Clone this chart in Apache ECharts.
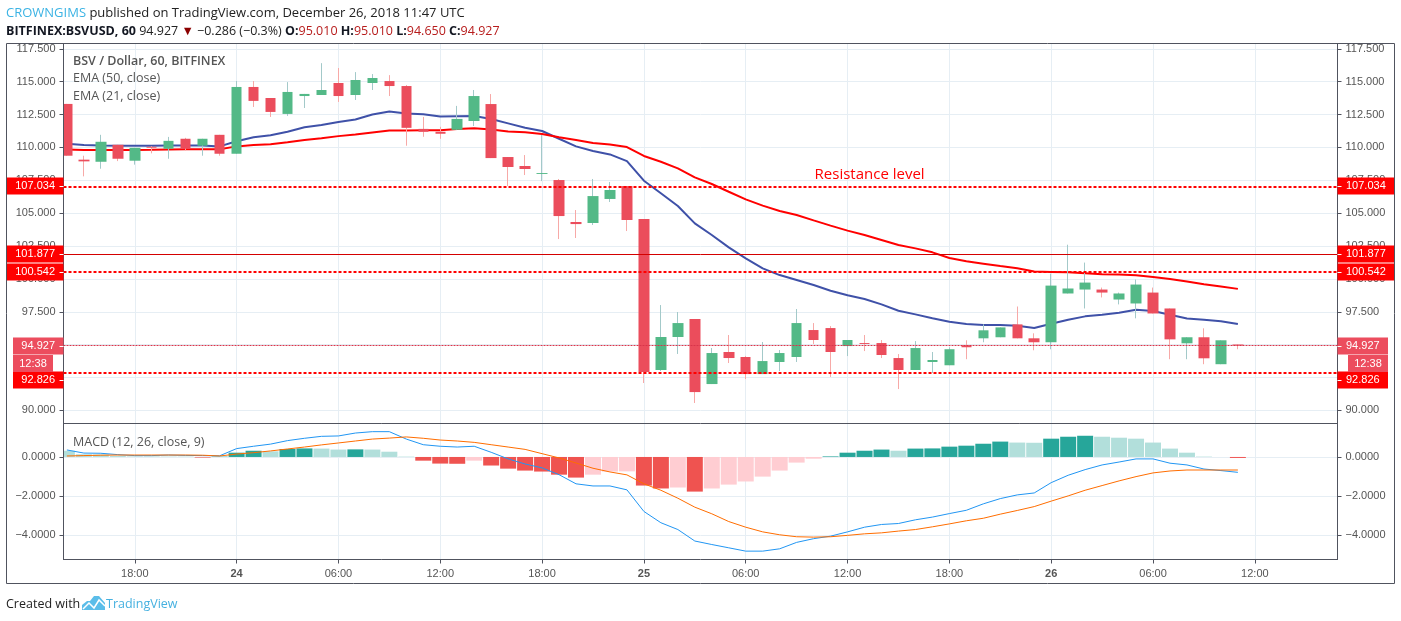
<!DOCTYPE html>
<html>
<head>
<meta charset="utf-8">
<title>BSVUSD</title>
<script src="https://cdn.jsdelivr.net/npm/echarts@6/dist/echarts.min.js"></script>
<style>
    html, body { margin: 0; padding: 0; background: #fff; }
    #chart { width: 1401px; height: 621px; }
</style>
</head>
<body>
<div id="chart"></div>
<script>
// hourly candles, 23 Dec 14:00 to 26 Dec 11:00, x is the candle number
const candleOpen = [113.31,109.07,108.91,110.20,108.99,110.05,109.90,110.66,110.13,110.96,109.52,114.60,113.76,112.55,113.91,113.99,114.90,113.99,114.90,115.05,114.67,111.41,111.19,111.34,
    112.01,113.30,109.27,108.59,107.98,107.52,104.33,104.25,106.08,107.06,104.55,93.07,95.58,96.95,92.00,94.44,94.06,92.76,93.68,94.06,96.11,96.26,94.89,95.12,95.12,93.98,93.07,93.68,
    93.43,94.95,95.48,95.56,96.54,95.48,95.18,98.89,99.19,99.19,98.43,98.13,98.96,97.75,95.10,95.56,93.51,95.01];
const candleClose = [109.37,108.94,110.43,109.14,109.97,109.98,110.50,109.90,110.66,109.52,114.60,113.54,112.70,114.22,114.07,114.37,113.91,115.13,115.28,114.67,111.49,111.19,111.04,112.17,
    113.91,109.19,108.51,108.36,108.05,104.78,104.17,106.30,106.76,104.48,92.92,95.58,96.64,91.39,94.36,93.98,92.76,93.75,94.36,96.64,95.35,94.44,95.35,95.05,94.21,93.07,94.74,93.83,
    94.65,94.80,96.09,96.31,95.48,95.18,99.49,99.27,99.72,98.96,98.89,99.57,97.37,95.40,95.56,93.96,95.33,94.927];
const candleLow = [109.37,107.80,108.38,108.96,108.69,109.55,109.14,109.77,109.37,109.37,109.52,113.08,112.32,112.40,113.00,113.99,113.46,113.61,114.37,113.91,110.13,110.81,110.66,111.34,
    111.63,109.19,107.06,107.90,107.44,103.03,103.11,104.10,105.85,103.64,92.08,92.99,94.29,90.56,92.00,93.60,92.38,92.76,92.99,93.68,95.05,92.54,94.13,94.51,93.98,91.62,93.07,92.84,
    93.43,93.89,95.18,95.56,95.48,94.57,94.65,98.89,97.75,98.59,98.06,97.00,97.37,93.89,93.89,93.51,93.51,94.65];
const candleHigh = [113.31,109.37,110.96,110.20,109.97,110.10,110.80,110.73,110.66,110.96,115.05,115.05,113.76,114.97,114.07,116.41,116.04,115.73,115.58,115.50,114.75,112.32,111.57,113.16,
    114.37,114.06,109.27,109.42,110.94,107.60,105.24,107.60,107.37,107.06,104.55,98.01,97.48,96.95,94.74,95.73,94.14,95.20,94.59,97.71,96.64,96.41,95.35,95.73,95.35,94.28,95.27,94.44,
    94.80,95.33,96.54,96.31,97.90,95.86,100.40,102.60,101.24,99.34,98.96,99.95,99.34,97.75,95.56,96.24,95.33,95.01];
const emaBlue = [110.28,110.18,110.15,110.13,110.13,110.13,110.14,110.15,110.14,110.08,110.47,110.78,110.93,111.20,111.53,111.70,111.94,112.12,112.50,112.73,112.58,112.52,112.35,112.37,
    112.39,112.16,111.83,111.50,111.25,110.66,110.08,109.73,109.47,108.96,107.47,106.51,105.54,104.22,103.34,102.40,101.56,100.80,100.29,99.91,99.53,99.10,98.75,98.47,98.06,97.58,97.30,97.00,
    96.74,96.57,96.49,96.49,96.44,96.26,96.59,96.89,97.15,97.27,97.42,97.65,97.55,97.27,96.99,96.89,96.77,96.57];
const emaRed = [109.85,109.80,109.80,109.80,109.80,109.82,109.85,109.87,109.87,109.87,110.08,110.18,110.25,110.40,110.56,110.70,110.86,110.98,111.14,111.29,111.29,111.31,111.31,111.41,
    111.45,111.37,111.22,111.15,111.02,110.77,110.56,110.33,110.23,110.03,109.35,108.91,108.41,107.72,107.22,106.63,106.05,105.57,105.16,104.86,104.45,104.05,103.67,103.34,102.96,102.58,102.32,102.02,
    101.59,101.34,101.16,100.98,100.81,100.56,100.53,100.50,100.43,100.35,100.33,100.28,100.15,100.00,99.80,99.60,99.42,99.24];
const macdLine = [0.36,0.20,0.19,0.12,0.07,0.07,0.10,0.08,0.07,0.06,0.43,0.55,0.66,0.84,0.96,1.06,1.08,1.23,1.30,1.30,0.92,0.63,0.55,0.51,
    0.55,0.24,-0.10,-0.36,-0.56,-0.91,-1.38,-1.49,-1.49,-1.69,-2.80,-3.38,-3.73,-4.32,-4.50,-4.67,-4.84,-4.84,-4.72,-4.39,-4.20,-4.07,-3.85,-3.61,-3.47,-3.42,-3.23,-3.09,
    -2.91,-2.74,-2.41,-2.14,-1.95,-1.85,-1.32,-0.94,-0.65,-0.41,-0.26,-0.10,-0.10,-0.32,-0.41,-0.62,-0.70,-0.79];
const signalLine = [0.05,0.07,0.09,0.10,0.10,0.10,0.10,0.10,0.09,0.05,0.15,0.22,0.31,0.41,0.51,0.62,0.72,0.82,0.92,0.97,1.03,0.96,0.87,0.82,
    0.75,0.63,0.51,0.39,0.17,-0.05,-0.31,-0.58,-0.77,-0.92,-1.38,-1.71,-2.12,-2.58,-2.92,-3.32,-3.61,-3.85,-4.00,-4.10,-4.12,-4.10,-4.03,-3.95,-3.90,-3.81,-3.73,-3.59,
    -3.44,-3.28,-3.15,-2.94,-2.75,-2.55,-2.27,-2.00,-1.71,-1.47,-1.23,-1.01,-0.82,-0.72,-0.67,-0.67,-0.67,-0.67];
const macdHist = [0.32,0.14,0.13,0.05,0.03,0.03,0.02,0.02,-0.03,0.02,0.22,0.32,0.29,0.41,0.44,0.43,0.38,0.39,0.38,0.27,0.02,-0.19,-0.34,-0.35,
    -0.19,-0.44,-0.60,-0.70,-0.75,-0.91,-1.06,-0.91,-0.75,-0.74,-1.47,-1.62,-1.57,-1.78,-1.62,-1.42,-1.26,-1.01,-0.70,-0.29,-0.09,0.03,0.22,0.32,0.38,0.32,0.43,0.44,
    0.53,0.58,0.68,0.79,0.74,0.73,0.94,1.04,1.09,1.04,0.99,0.94,0.74,0.43,0.22,0.02,0.00,-0.05];

const timeTicks = [4, 10, 16, 22, 28, 34, 40, 46, 52, 58, 64, 70];
const timeLabels = ['18:00', '24', '06:00', '12:00', '18:00', '25', '06:00', '12:00', '18:00', '26', '06:00', '12:00'];
const priceTicks = [90, 92.5, 95, 97.5, 100, 102.5, 105, 107.5, 110, 112.5, 115, 117.5];
const macdTicks = [-4, -2, 0];

const supportLevels = [107.034, 100.542, 92.826];
const soloLevel = 101.877;
const lastPrice = 94.927;
const countdown = '12:38';

const UI_FONT = '"Open Sans", sans-serif';
const AXIS_FONT = '"Liberation Sans", Arial, sans-serif';
const GRID_COLOR = '#e6eef4';
const AXIS_COLOR = '#50535e';
const TEXT_COLOR = '#555';

const bodyData = candleOpen.map((o, i) => [i, o, candleClose[i], Math.min(o, candleClose[i]), Math.max(o, candleClose[i])]);
const wickData = candleOpen.map((o, i) => [i, o, candleClose[i], candleLow[i], candleHigh[i]]);

// same colouring TradingView uses for the histogram
const histData = macdHist.map((v, i) => {
    let prev = i ? macdHist[i - 1] : v + 1;
    let color = v >= 0 ? (v > prev ? '#26a69a' : '#b2dfdb') : (v < prev ? '#ef5350' : '#ffcdd2');
    return { value: [i, v], itemStyle: { color: color } };
});

function timeAxis(gridIndex, showLabels) {
    return {
        type: 'value', gridIndex: gridIndex, min: -0.2, max: 74.87,
        axisLine: { show: true, onZero: false, lineStyle: { color: AXIS_COLOR } },
        axisTick: { show: showLabels, length: 4, customValues: timeTicks, lineStyle: { color: AXIS_COLOR } },
        splitLine: { show: true, lineStyle: { color: GRID_COLOR } },
        axisLabel: {
            show: showLabels, customValues: timeTicks, margin: 9,
            color: TEXT_COLOR, fontFamily: AXIS_FONT, fontSize: 11,
            formatter: function (v) {
                let label = timeLabels[timeTicks.indexOf(v)];
                return label.length === 2 ? '{day|' + label + '}' : label;
            },
            rich: { day: { fontWeight: 'bold', color: TEXT_COLOR, fontFamily: AXIS_FONT, fontSize: 11 } }
        }
    };
}

// the left axes sit above the white strip that trims the first candle, so only the right ones draw grid lines
function valueAxis(gridIndex, side, min, max, ticks, digits) {
    let isLeft = side === 'left';
    return {
        type: 'value', gridIndex: gridIndex, position: side, min: min, max: max, z: isLeft ? 20 : 0,
        axisLine: { show: true, onZero: false, lineStyle: { color: AXIS_COLOR } },
        axisTick: { show: true, length: 4, customValues: ticks, lineStyle: { color: AXIS_COLOR } },
        splitLine: { show: !isLeft, lineStyle: { color: GRID_COLOR } },
        axisLabel: {
            customValues: ticks, margin: 8, padding: [2, 0, 0, 0], color: TEXT_COLOR, fontFamily: AXIS_FONT, fontSize: 11,
            formatter: function (v) { return v.toFixed(digits).replace('-', '\u2212'); }
        }
    };
}

function levelLine(value, color, width, type) {
    return { yAxis: value, lineStyle: { color: color, width: width, type: type } };
}

function headerText(text, left, top, style) {
    return { text: text, left: left, top: top, padding: 0, textStyle: style };
}

const legendStyle = { fontFamily: UI_FONT, fontSize: 12.5, fontWeight: 'normal', color: TEXT_COLOR };
const headRich = {
    blue: { color: '#3bb3e4', fontFamily: UI_FONT, fontSize: 13 },
    bold: { color: '#131722', fontFamily: UI_FONT, fontSize: 12.5, fontWeight: 'bold' },
    val: { color: '#b71c1c', fontFamily: UI_FONT, fontSize: 12.5 },
    arrow: { color: '#8b0000', fontFamily: UI_FONT, fontSize: 12.5 }
};
const headStyle = { fontFamily: UI_FONT, fontSize: 13, fontWeight: 'normal', color: '#222', rich: headRich };

let chart = echarts.init(document.getElementById('chart'), null, { renderer: 'canvas' });

chart.setOption({
    animation: false,
    backgroundColor: '#fff',
    title: [
        headerText('{blue|CROWNGIMS} published on TradingView.com, December 26, 2018 11:47 UTC', 6, 7, headStyle),
        headerText('{bold|BITFINEX:BSVUSD, 60} 94.927 {arrow|\u25BC} \u22120.286 (\u22120.3%) {bold|O:}{val|95.010} {bold|H:}{val|95.010} {bold|L:}{val|94.650} {bold|C:}{val|94.927}', 6, 25,
            Object.assign({}, headStyle, { fontSize: 12.5 })),
        headerText('{t|BSV / Dollar, 60, BITFINEX}', 73, 55, Object.assign({}, legendStyle, { rich: { t: { fontFamily: UI_FONT, fontSize: 12.5, fontWeight: 600, color: TEXT_COLOR } } })),
        headerText('EMA (50, close)', 73, 72, legendStyle),
        headerText('EMA (21, close)', 73, 90, legendStyle),
        headerText('MACD (12, 26, close, 9)', 73, 436, legendStyle),
        headerText('Created with', 6, 598, Object.assign({}, legendStyle, { color: '#222' })),
        headerText('TradingView', 106, 598, Object.assign({}, legendStyle, { color: '#46b1e0' }))
    ],
    grid: [
        { left: 63.5, right: 63.5, top: 43.5, height: 380 },
        { left: 63.5, right: 63.5, top: 423.5, height: 136 }
    ],
    xAxis: [timeAxis(0, false), timeAxis(1, true)],
    yAxis: [
        valueAxis(0, 'left', 89, 117.906, priceTicks, 3),
        valueAxis(0, 'right', 89, 117.906, priceTicks, 3),
        valueAxis(1, 'left', -5.27, 1.72, macdTicks, 4),
        valueAxis(1, 'right', -5.27, 1.72, macdTicks, 4)
    ],
    series: [
        {
            name: 'EMA 50', type: 'line', z: 2, showSymbol: false, silent: true,
            lineStyle: { color: '#3f51a8', width: 2 },
            data: emaBlue.map((v, i) => [i, v])
        },
        {
            name: 'EMA 21', type: 'line', z: 2, showSymbol: false, silent: true,
            lineStyle: { color: '#ff0000', width: 2 },
            data: emaRed.map((v, i) => [i, v])
        },
        {
            // wicks are paler than the bodies, so they get their own series
            name: 'wicks', type: 'candlestick', z: 3, barWidth: 1, silent: true,
            itemStyle: { color: '#a3c9c9', color0: '#f7a9a7', borderColor: '#a3c9c9', borderColor0: '#f7a9a7', borderWidth: 1 },
            data: wickData
        },
        {
            name: 'BSVUSD', type: 'candlestick', z: 4, barWidth: 11, silent: true,
            itemStyle: { color: '#53b987', color0: '#eb4d5c', borderColor: '#53b987', borderColor0: '#eb4d5c', borderWidth: 0 },
            data: bodyData,
            markLine: {
                silent: true, symbol: 'none', z: 6, label: { show: false }, animation: false,
                data: supportLevels.map(v => levelLine(v, '#ff0000', 2, [3, 2])).concat([
                    levelLine(soloLevel, '#d40000', 1, 'solid'),
                    levelLine(lastPrice, '#d8354b', 1, [2, 1])
                ])
            },
            markPoint: {
                silent: true, symbol: 'circle', symbolSize: 0, animation: false,
                label: { show: true, position: 'top', distance: 4, color: '#ff0000', fontFamily: UI_FONT, fontSize: 15, formatter: '{b}' },
                data: [{ name: 'Resistance level', coord: [47.3, supportLevels[0]] }]
            }
        },
        {
            name: 'Histogram', type: 'bar', xAxisIndex: 1, yAxisIndex: 2, barWidth: 16, z: 2, silent: true,
            data: histData
        },
        {
            name: 'MACD', type: 'line', xAxisIndex: 1, yAxisIndex: 2, z: 3, showSymbol: false, silent: true,
            lineStyle: { color: '#2196f3', width: 1 },
            data: macdLine.map((v, i) => [i, v])
        },
        {
            name: 'Signal', type: 'line', xAxisIndex: 1, yAxisIndex: 2, z: 3, showSymbol: false, silent: true,
            lineStyle: { color: '#ff6d00', width: 1 },
            data: signalLine.map((v, i) => [i, v])
        }
    ]
});

// price tags sit over the axis labels, at the height the scale gives them
function priceTag(text, value, color, leftX, rightX, nudge) {
    let y = Math.round(chart.convertToPixel({ yAxisIndex: 0 }, value)) + nudge;
    let out = [];
    [
        { x: leftX, w: 63.5 - leftX, tx: 55, align: 'right', t0: 59.5, t1: 63.5 },
        { x: 1337.5, w: rightX - 1337.5, tx: 1346, align: 'left', t0: 1337.5, t1: 1341.5 }
    ].forEach(function (s) {
        out.push({ type: 'rect', z: 50, shape: { x: s.x, y: y - 8.5, width: s.w, height: 17 }, style: { fill: color } });
        out.push({ type: 'line', z: 51, shape: { x1: s.t0, y1: y + 0.5, x2: s.t1, y2: y + 0.5 }, style: { stroke: '#fff' } });
        out.push({ type: 'text', z: 52, style: { text: text, x: s.tx, y: y, fill: '#fff', font: '11px "Liberation Sans"', align: s.align, verticalAlign: 'middle' } });
    });
    return out;
}

let lastY = Math.round(chart.convertToPixel({ yAxisIndex: 0 }, lastPrice));
let elements = [
    { type: 'rect', z: 40, shape: { x: 6.5, y: 43.5, width: 1388, height: 540 }, style: { fill: 'none', stroke: AXIS_COLOR } },
    // white strip so the clipped first candle and bar stop at the axis
    { type: 'rect', z: 10, shape: { x: 7, y: 44, width: 56, height: 515 }, style: { fill: '#fff' } },
    // logo
    { type: 'polygon', z: 40, shape: { points: [[82, 610], [82, 605], [87, 601], [90, 601], [94, 596], [99, 596], [105, 603], [105, 610]] }, style: { fill: '#5bbde9' } },
    { type: 'polyline', z: 41, shape: { points: [[83, 609], [89, 603], [94, 608], [99, 600], [105, 606]] }, style: { stroke: '#fff', lineWidth: 1.5, fill: 'none' } }
];
elements = elements
    .concat(priceTag(supportLevels[0].toFixed(3), supportLevels[0], '#ff0000', 7, 1394, 0))
    .concat(priceTag(soloLevel.toFixed(3), soloLevel, '#ff0000', 7, 1394, 0))
    .concat(priceTag(supportLevels[1].toFixed(3), supportLevels[1], '#ff0000', 7, 1394, 0))
    .concat(priceTag(lastPrice.toFixed(3), lastPrice, '#ec4d5e', 13, 1388, 0))
    .concat(priceTag(supportLevels[2].toFixed(3), supportLevels[2], '#ff0000', 13, 1388, 7));
// countdown under the last price
elements.push(
    { type: 'rect', z: 50, shape: { x: 13, y: lastY + 9, width: 40, height: 17 }, style: { fill: '#ec4d5e' } },
    { type: 'rect', z: 50, shape: { x: 1348, y: lastY + 9, width: 40, height: 17 }, style: { fill: '#ec4d5e' } },
    { type: 'text', z: 52, style: { text: countdown, x: 33, y: lastY + 17.5, fill: '#fff', font: '11px "Liberation Sans"', align: 'center', verticalAlign: 'middle' } },
    { type: 'text', z: 52, style: { text: countdown, x: 1368, y: lastY + 17.5, fill: '#fff', font: '11px "Liberation Sans"', align: 'center', verticalAlign: 'middle' } }
);
chart.setOption({ graphic: { elements: elements } });
</script>
</body>
</html>
